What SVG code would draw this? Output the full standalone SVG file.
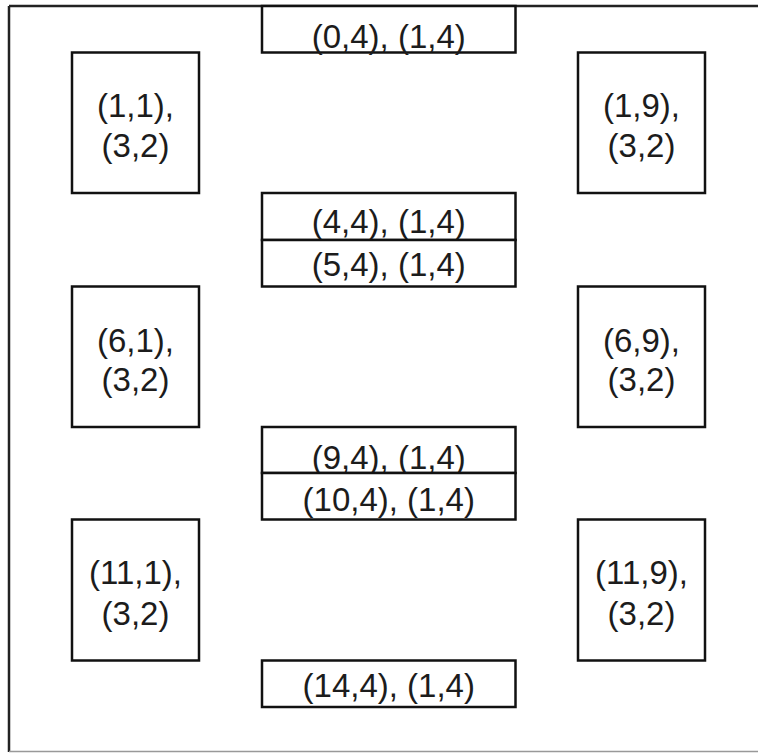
<svg xmlns="http://www.w3.org/2000/svg" width="758" height="753" viewBox="0 0 758 753">
  <style>
    .box { fill: #ffffff; stroke: #111111; stroke-width: 2.5; }
    .lbl { font-family: "Liberation Sans", Arial, sans-serif; font-size: 33px; fill: #1c1c1c; text-anchor: middle; }
    .frame { stroke: #222222; stroke-width: 2.5; fill: none; }
  </style>
  <rect width="758" height="753" fill="#ffffff"/>
  <g id="frame">
    <line class="frame" x1="9" y1="6" x2="758" y2="6"/>
    <line class="frame" x1="9" y1="6" x2="9" y2="752"/>
    <line x1="9" y1="751.5" x2="758" y2="751.5" stroke="#999999" stroke-width="1.5"/>
  </g>
  <g id="connectors"></g>
  <g id="n0_4">
    <rect class="box" x="262" y="6" width="253.5" height="46.5"/>
    <text class="lbl" x="388.75" y="48">(0,4), (1,4)</text>
  </g>
  <g id="n1_1">
    <rect class="box" x="72" y="52.5" width="127" height="140.5"/>
    <text class="lbl" x="135.5" y="117">(1,1),</text>
    <text class="lbl" x="135.5" y="157">(3,2)</text>
  </g>
  <g id="n1_9">
    <rect class="box" x="578" y="52.5" width="127" height="140.5"/>
    <text class="lbl" x="641.5" y="117">(1,9),</text>
    <text class="lbl" x="641.5" y="157">(3,2)</text>
  </g>
  <g id="n4_4">
    <rect class="box" x="262" y="193" width="253.5" height="47"/>
    <text class="lbl" x="388.75" y="233">(4,4), (1,4)</text>
  </g>
  <g id="n5_4">
    <rect class="box" x="262" y="240" width="253.5" height="46.5"/>
    <text class="lbl" x="388.75" y="276">(5,4), (1,4)</text>
  </g>
  <g id="n6_1">
    <rect class="box" x="72" y="286.5" width="127" height="140.5"/>
    <text class="lbl" x="135.5" y="352">(6,1),</text>
    <text class="lbl" x="135.5" y="391">(3,2)</text>
  </g>
  <g id="n6_9">
    <rect class="box" x="578" y="286.5" width="127" height="140.5"/>
    <text class="lbl" x="641.5" y="352">(6,9),</text>
    <text class="lbl" x="641.5" y="391">(3,2)</text>
  </g>
  <g id="n9_4">
    <rect class="box" x="262" y="427" width="253.5" height="46"/>
    <text class="lbl" x="388.75" y="469">(9,4), (1,4)</text>
  </g>
  <g id="n10_4">
    <rect class="box" x="262" y="473" width="253.5" height="46.5"/>
    <text class="lbl" x="388.75" y="511">(10,4), (1,4)</text>
  </g>
  <g id="n11_1">
    <rect class="box" x="72" y="519.5" width="127" height="141"/>
    <text class="lbl" x="135.5" y="584">(11,1),</text>
    <text class="lbl" x="135.5" y="625">(3,2)</text>
  </g>
  <g id="n11_9">
    <rect class="box" x="578" y="519.5" width="127" height="141"/>
    <text class="lbl" x="641.5" y="584">(11,9),</text>
    <text class="lbl" x="641.5" y="625">(3,2)</text>
  </g>
  <g id="n14_4">
    <rect class="box" x="262" y="660.5" width="253.5" height="46.5"/>
    <text class="lbl" x="388.75" y="697">(14,4), (1,4)</text>
  </g>
</svg>
